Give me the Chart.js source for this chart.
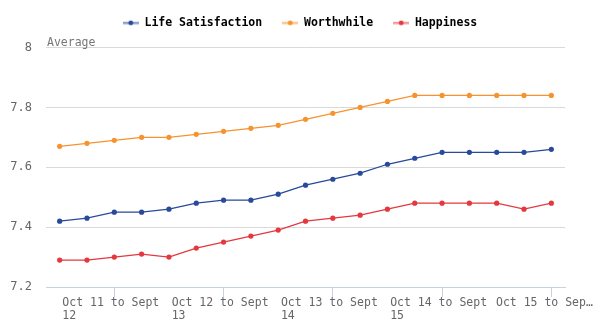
<!DOCTYPE html>
<html>
<head>
<meta charset="utf-8">
<script src="https://cdn.jsdelivr.net/npm/chart.js@4"></script>
<style>
html,body{margin:0;padding:0;background:#fff;}
#wrap{width:600px;height:336px;position:relative;}
</style>
</head>
<body>
<div id="wrap"><canvas id="c" width="600" height="336"></canvas></div>
<script>
const categories = [
  "Apr 11 to Mar 12","Jul 11 to Jun 12","Oct 11 to Sept 12","Jan 12 to Dec 12",
  "Apr 12 to Mar 13","Jul 12 to Jun 13","Oct 12 to Sept 13","Jan 13 to Dec 13",
  "Apr 13 to Mar 14","Jul 13 to Jun 14","Oct 13 to Sept 14","Jan 14 to Dec 14",
  "Apr 14 to Mar 15","Jul 14 to Jun 15","Oct 14 to Sept 15","Jan 15 to Dec 15",
  "Apr 15 to Mar 16","Jul 15 to Jun 16","Oct 15 to Sept 16"
];
const lifeSatisfaction = [7.42,7.43,7.45,7.45,7.46,7.48,7.49,7.49,7.51,7.54,7.56,7.58,7.61,7.63,7.65,7.65,7.65,7.65,7.66];
const worthwhile       = [7.67,7.68,7.69,7.70,7.70,7.71,7.72,7.73,7.74,7.76,7.78,7.80,7.82,7.84,7.84,7.84,7.84,7.84,7.84];
const happiness        = [7.29,7.29,7.30,7.31,7.30,7.33,7.35,7.37,7.39,7.42,7.43,7.44,7.46,7.48,7.48,7.48,7.48,7.46,7.48];
const shownTickIndices = [2,6,10,14,18];
const yTitle = "Average";

const MONO = "'DejaVu Sans Mono', monospace";

function marker(lineColor, dotColor) {
  const cv = document.createElement('canvas');
  cv.width = 16; cv.height = 8;
  const g = cv.getContext('2d');
  g.fillStyle = lineColor;
  g.fillRect(0, 3, 16, 2.5);
  g.beginPath();
  g.arc(8, 4.2, 2.4, 0, Math.PI * 2);
  g.fillStyle = dotColor;
  g.fill();
  return cv;
}

const series = [
  {name: "Life Satisfaction", data: lifeSatisfaction, color: "#284a9b", light: "#8d9fcb"},
  {name: "Worthwhile", data: worthwhile, color: "#f7932f", light: "#fcc58d"},
  {name: "Happiness", data: happiness, color: "#e4383e", light: "#f29a9c"}
];

const titlePlugin = {
  id: 'avgTitle',
  beforeUpdate(chart) {
    const lg = chart.legend;
    if (lg && !lg._patched) {
      const origFit = lg.fit;
      lg.fit = function() { origFit.call(this); this.height += 9; };
      lg._patched = true;
    }
  },
  afterLayout(chart) {
    const lg = chart.legend;
    if (lg) {
      lg.left = 0; lg.right = chart.width; lg.width = chart.width;
    }
  },
  afterDraw(chart) {
    const ctx = chart.ctx, a = chart.chartArea;
    ctx.save();
    ctx.font = "11.5px " + MONO;
    ctx.fillStyle = "#777";
    ctx.textAlign = "left";
    ctx.textBaseline = "alphabetic";
    ctx.fillText(yTitle, a.left + 1, a.top - 2);
    ctx.restore();
  }
};

new Chart(document.getElementById('c'), {
  type: 'line',
  data: {
    labels: categories,
    datasets: series.map(s => ({
      label: s.name,
      data: s.data,
      borderColor: s.color,
      backgroundColor: s.color,
      borderWidth: 1.3,
      pointRadius: 2.6,
      pointHoverRadius: 3,
      pointBorderWidth: 0,
      pointBackgroundColor: s.color,
      tension: 0,
      fill: false
    }))
  },
  options: {
    responsive: false,
    animation: false,
    devicePixelRatio: 1,
    layout: {padding: {top: -3, right: 35, left: 0, bottom: 0}},
    plugins: {
      tooltip: {enabled: false},
      legend: {
        display: true,
        position: 'top',
        align: 'center',
        labels: {
          usePointStyle: true,
          pointStyleWidth: 16,
          padding: 20,
          color: "#333",
          font: {family: MONO, size: 11.5, weight: 'bold'},
          generateLabels(chart) {
            return series.map((s, i) => ({
              text: s.name,
              fillStyle: s.color,
              strokeStyle: s.color,
              pointStyle: marker(s.light, s.color),
              hidden: false,
              datasetIndex: i,
              lineWidth: 0
            }));
          }
        }
      }
    },
    scales: {
      x: {
        type: 'category',
        offset: true,
        border: {display: true, color: "#c5d3e2", width: 1},
        grid: {display: true, drawOnChartArea: false, drawTicks: true, tickLength: 10, color: "#c5d3e2"},
        ticks: {
          autoSkip: false,
          maxRotation: 0,
          minRotation: 0,
          padding: 0,
          color: "#666",
          font: {family: MONO, size: 11.5, lineHeight: 1.13},
          callback(val, idx) {
            if (!shownTickIndices.includes(idx)) return null;
            const lab = categories[idx];
            const parts = lab.split(' ');
            const first = parts.slice(0, 4).join(' ');
            const second = parts.slice(4).join(' ');
            if (idx === categories.length - 1) {
              return first.slice(0, first.length - 1) + "\u2026  ";
            }
            return [first + ' ', second.padEnd(first.length + 1, ' ')];
          }
        },
        afterFit(scale) { scale.height = 49; scale.paddingLeft = 0; scale.paddingRight = 0; }
      },
      y: {
        min: 7.2,
        max: 8,
        border: {display: false},
        grid: {color: "#d9d9d9", drawTicks: false, lineWidth: 1},
        ticks: {
          stepSize: 0.2,
          padding: 14,
          color: "#666",
          font: {family: MONO, size: 12},
          callback(v) { return String(+v.toFixed(1)); }
        },
        afterFit(scale) { scale.width = 46; }
      }
    }
  },
  plugins: [titlePlugin]
});
</script>
</body>
</html>
